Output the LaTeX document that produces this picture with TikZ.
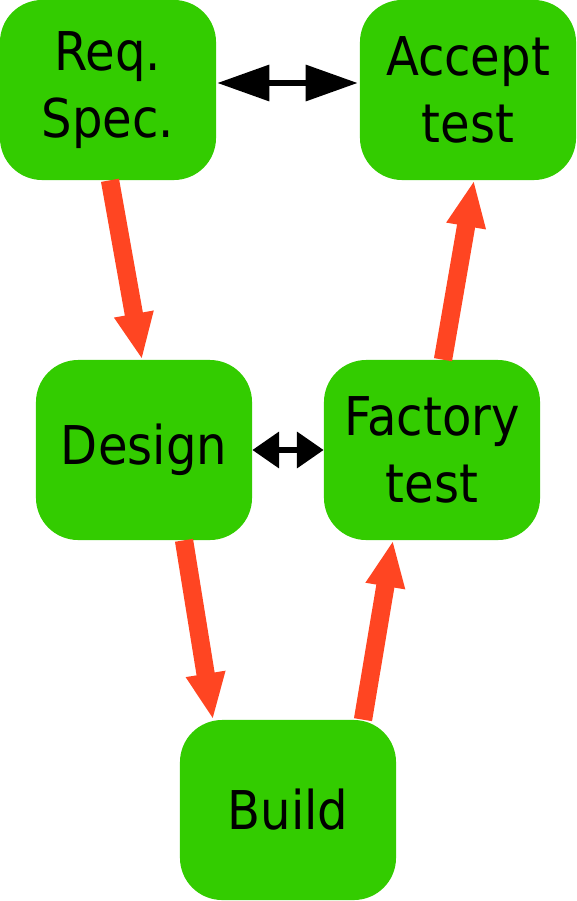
\documentclass[tikz,border=0pt]{standalone}
\usepackage{fontspec}
\usetikzlibrary{arrows.meta,positioning,calc}
\newfontfamily\vmfont{DejaVu Sans Condensed}
\definecolor{VmGreen}{RGB}{51,204,0}
\definecolor{VmRed}{RGB}{255,69,34}
\tikzset{
  vm/box/.style={
    fill=VmGreen,
    draw=none,
    rounded corners=30,
    align=center,
    text=black,
    minimum width=5.4cm,
    minimum height=4.5cm,
    inner sep=0pt,
    font=\vmfont\fontsize{38}{48}\selectfont
  },
  vm/flow/.style={-{Triangle[length=33pt,width=26pt]}, line width=13pt, draw=VmRed},
  vm/link/.style={{Triangle[length=#1,width=25pt]}-{Triangle[length=#1,width=25pt]}, line width=4.3pt, draw=black},
  vm/link/.default=37pt
}
\begin{document}
\begin{tikzpicture}[x=0.025cm,y=-0.025cm]
  \useasboundingbox (0,0) rectangle (577,901);
  \node[vm/box] (req) at (108,90) {Req.\\Spec.};
  \node[vm/box] (accept) at (468,90) {Accept\\test};
  \node[vm/box] (design) at (144,450) {Design};
  \node[vm/box] (factory) at (432,450) {Factory\\test};
  \node[vm/box] (build) at (288,810) {Build};
  \draw[vm/link] ($(req.east)+(1,-7)$) -- ($(accept.west)+(-2,-7)$);
  \draw[vm/link=19pt] (design.east) -- (factory.west);
  \draw[vm/flow] ($(req.south)+(2,0)$) -- ($(design.north)+(-2,0)$);
  \draw[vm/flow] ($(design.south)+(40,0)$) -- ($(build.north)+(-75,0)$);
  \draw[vm/flow] ($(build.north)+(75,0)$) -- ($(factory.south)+(-39,0)$);
  \draw[vm/flow] ($(factory.north)+(11,0)$) -- ($(accept.south)+(6,0)$);
\end{tikzpicture}
\end{document}
